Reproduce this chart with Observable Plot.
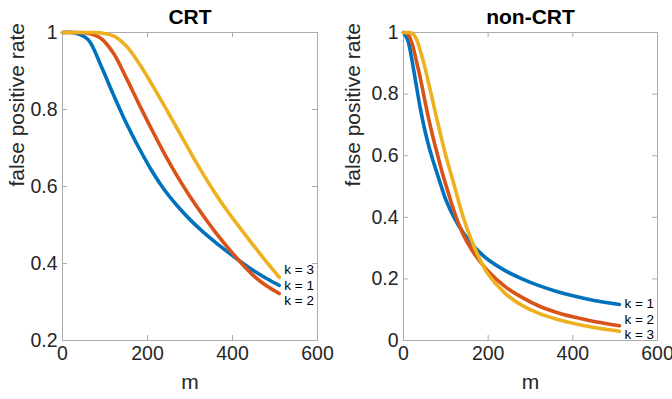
<!DOCTYPE html>
<html>
<head>
<meta charset="utf-8">
<script src="https://cdn.jsdelivr.net/npm/d3@7"></script>
<script src="https://cdn.jsdelivr.net/npm/@observablehq/plot@0.6"></script>
<style>
  html, body { margin: 0; padding: 0; background: #fff; }
  #wrap { display: flex; width: 672px; height: 399px; overflow: hidden; }
  #wrap svg { display: block; overflow: visible; }
</style>
</head>
<body>
<div id="wrap"></div>
<script>
// ---------- data ----------
const seriesNames = ["k = 1", "k = 2", "k = 3"];
const seriesColors = ["#0072BD", "#D95319", "#EDB120"];

// CRT panel
const mCRT = [0, 30, 60, 90, 120, 150, 180, 210, 240, 270, 300, 330, 360, 390, 420, 450, 480, 510];
const crtK1 = [1, 0.999, 0.982, 0.915, 0.838, 0.765, 0.700, 0.641, 0.591, 0.550, 0.514, 0.483, 0.455, 0.429, 0.404, 0.381, 0.361, 0.343];
const crtK2 = [1, 1, 0.998, 0.985, 0.946, 0.882, 0.814, 0.748, 0.685, 0.627, 0.574, 0.526, 0.481, 0.440, 0.402, 0.368, 0.342, 0.322];
const crtK3 = [1, 1, 1, 0.999, 0.991, 0.965, 0.920, 0.866, 0.809, 0.750, 0.691, 0.634, 0.581, 0.533, 0.489, 0.446, 0.404, 0.364];
const crtLabelY = [0.343, 0.303, 0.383];   // k=1, k=2, k=3 label heights

// non-CRT panel
const mNon = [0, 10, 20, 30, 40, 50, 60, 70, 80, 90, 100, 120, 140, 160, 180, 200, 240, 280, 320, 360, 400, 450, 510];
const nonK1 = [1, 0.975, 0.91, 0.83, 0.752, 0.685, 0.63, 0.583, 0.54, 0.497, 0.457, 0.398, 0.352, 0.315, 0.286, 0.262, 0.227, 0.2, 0.178, 0.16, 0.145, 0.13, 0.117];
const nonK2 = [1, 0.995, 0.965, 0.91, 0.85, 0.782, 0.716, 0.658, 0.605, 0.553, 0.506, 0.418, 0.347, 0.297, 0.258, 0.225, 0.175, 0.14, 0.112, 0.092, 0.077, 0.062, 0.048];
const nonK3 = [1, 1, 0.998, 0.98, 0.94, 0.89, 0.832, 0.772, 0.712, 0.655, 0.6, 0.503, 0.405, 0.327, 0.265, 0.215, 0.153, 0.114, 0.088, 0.07, 0.056, 0.042, 0.03];
const nonLabelY = [0.121, 0.068, 0.0185];

const xTicks = [0, 200, 400, 600];
const crtYTicks = [0.2, 0.4, 0.6, 0.8, 1];
const nonYTicks = [0, 0.2, 0.4, 0.6, 0.8, 1];

const xLabel = "m";
const yLabel = "false positive rate";
const titles = ["CRT", "non-CRT"];

// ---------- drawing ----------
const FONT = "'Liberation Sans', Arial, Helvetica, sans-serif";
const TXT = "#262626";
const BOX = "#ababab";
const W = 336, H = 399, MT = 32, MB = 59;

function rows(m, ys) {
  const out = [];
  ys.forEach((arr, i) => arr.forEach((v, j) => out.push({m: m[j], v, k: seriesNames[i]})));
  return out;
}

function panel({title, m, ys, labelY, yDomain, yTicks, ml, mr}) {
  const data = rows(m, ys);
  const innerW = W - ml - mr, innerH = H - MT - MB;
  const tick = 5;
  const ends = seriesNames.map((k, i) => ({k, m: m[m.length - 1], v: labelY[i]}));
  return Plot.plot({
    width: W, height: H,
    marginLeft: ml, marginRight: mr, marginTop: MT, marginBottom: MB,
    style: {fontFamily: FONT, fontSize: "19px", color: TXT, background: "white", overflow: "visible"},
    x: {domain: [0, 600]},
    y: {domain: yDomain},
    color: {domain: seriesNames, range: seriesColors},
    marks: [
      Plot.frame({stroke: BOX, strokeWidth: 1}),
      // inward ticks on all four sides
      Plot.tickX(xTicks, {x: d => d, stroke: BOX, insetTop: innerH - tick}),
      Plot.tickX(xTicks, {x: d => d, stroke: BOX, insetBottom: innerH - tick}),
      Plot.tickY(yTicks, {y: d => d, stroke: BOX, insetRight: innerW - tick}),
      Plot.tickY(yTicks, {y: d => d, stroke: BOX, insetLeft: innerW - tick}),
      Plot.axisX({ticks: xTicks, tickSize: 0, tickPadding: 6, tickFormat: d => String(d), label: null, fill: TXT, fontSize: 19.5}),
      Plot.axisY({ticks: yTicks, tickSize: 0, tickPadding: 5, tickFormat: d => String(d), label: null, fill: TXT, fontSize: 19.5}),
      Plot.line(data, {x: "m", y: "v", z: "k", stroke: "k", strokeWidth: 3.6, curve: "catmull-rom"}),
      Plot.text(ends, {x: "m", y: "v", text: "k", textAnchor: "start", dx: 5, fontSize: 13.5, fill: "#000"}),
      Plot.text([title], {frameAnchor: "top", dy: -23, fontWeight: "bold", fontSize: 21, fill: "#000"}),
      Plot.text([xLabel], {frameAnchor: "bottom", dy: 48, fontSize: 21, fill: TXT}),
      Plot.text([yLabel], {frameAnchor: "left", dx: -(ml - 17), rotate: -90, fontSize: 21, fill: TXT})
    ]
  });
}

const wrap = document.getElementById("wrap");
wrap.appendChild(panel({title: titles[0], m: mCRT, ys: [crtK1, crtK2, crtK3], labelY: crtLabelY,
  yDomain: [0.2, 1], yTicks: crtYTicks, ml: 62, mr: 19}));
wrap.appendChild(panel({title: titles[1], m: mNon, ys: [nonK1, nonK2, nonK3], labelY: nonLabelY,
  yDomain: [0, 1], yTicks: nonYTicks, ml: 67, mr: 15}));
</script>
</body>
</html>
